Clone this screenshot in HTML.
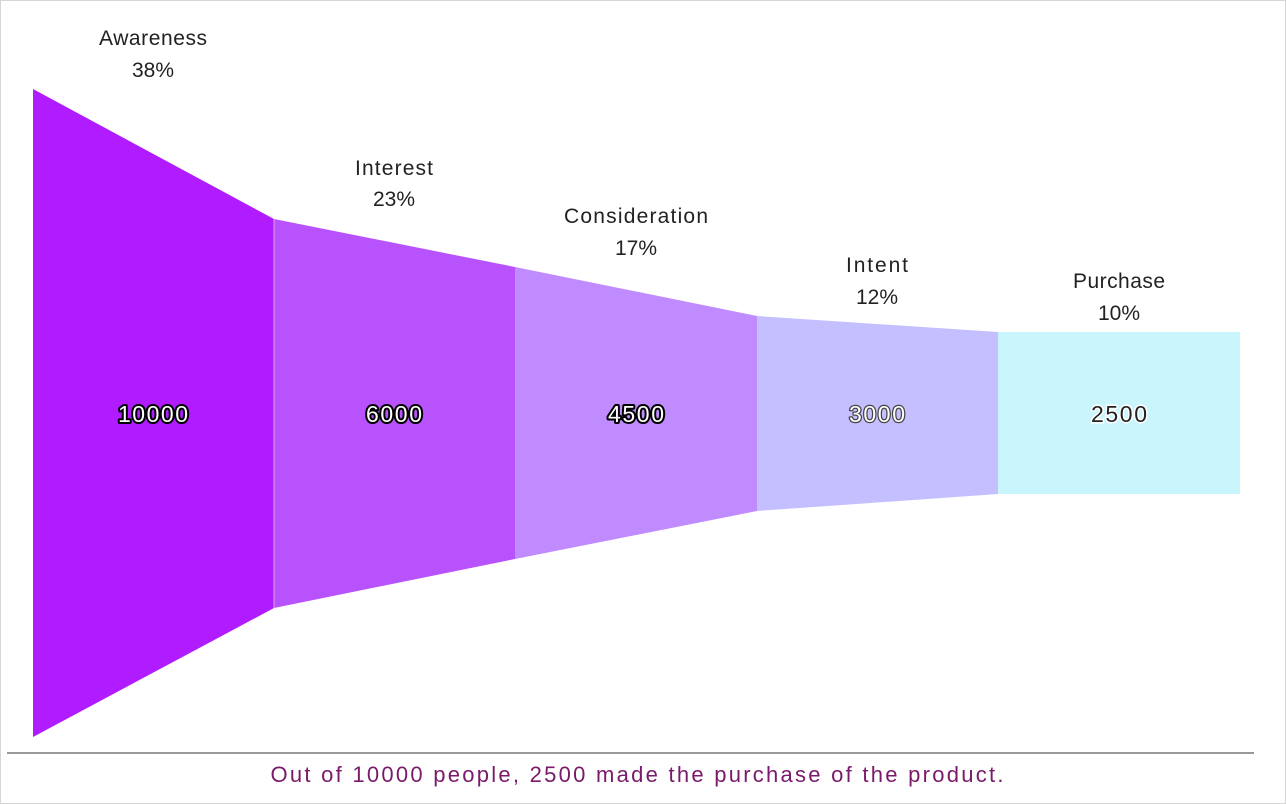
<!DOCTYPE html>
<html><head><style>
html,body{margin:0;padding:0;background:#fff;}
svg{display:block;}
text{font-family:"Liberation Sans",sans-serif;}
</style></head><body>
<svg width="1286" height="804" viewBox="0 0 1286 804">
<rect x="0.5" y="0.5" width="1285" height="803" fill="#fff" stroke="#d6d6d6"/>
<polygon points="33,89 274,219 274,608 33,737" fill="#b01cff"/>
<polygon points="274,219 515,267 515,559 274,608" fill="#b852fc"/>
<polygon points="515,267 757,316 757,511 515,559" fill="#bf8bff"/>
<polygon points="757,316 998,332 998,494 757,511" fill="#c4c0ff"/>
<polygon points="998,332 1240,332 1240,494 998,494" fill="#c9f5fd"/>
<line x1="274" y1="219" x2="274" y2="608" stroke="#d9a0ff" stroke-width="1"/>
<line x1="7" y1="753" x2="1254" y2="753" stroke="#999" stroke-width="2"/>
<g font-size="21" text-anchor="middle" fill="#222">
<text x="153" y="45" textLength="108">Awareness</text><text x="153" y="77">38%</text>
<text x="394" y="175" textLength="78">Interest</text><text x="394" y="206">23%</text>
<text x="636" y="223" textLength="144">Consideration</text><text x="636" y="255">17%</text>
<text x="877" y="272" textLength="62">Intent</text><text x="877" y="304">12%</text>
<text x="1119" y="288" textLength="92">Purchase</text><text x="1119" y="320">10%</text>
</g>
<g font-size="23" text-anchor="middle" fill="#fff" stroke="#000" stroke-width="4" paint-order="stroke" stroke-linejoin="round">
<text x="153" y="422" textLength="70">10000</text>
<text x="394" y="422" textLength="56">6000</text>
<text x="636" y="422" textLength="56">4500</text>
</g>
<g font-size="23" text-anchor="middle" fill="#fff" stroke="#444" stroke-width="2.5" paint-order="stroke" stroke-linejoin="round">
<text x="877" y="422" textLength="56">3000</text>
</g>
<g font-size="23" text-anchor="middle" fill="#222" stroke="#fff" stroke-width="3" paint-order="stroke">
<text x="1119" y="422" textLength="56">2500</text>
</g>
<text x="637" y="782" font-size="22" text-anchor="middle" fill="#7a1a6a" textLength="733">Out of 10000 people, 2500 made the purchase of the product.</text>
</svg>
</body></html>
